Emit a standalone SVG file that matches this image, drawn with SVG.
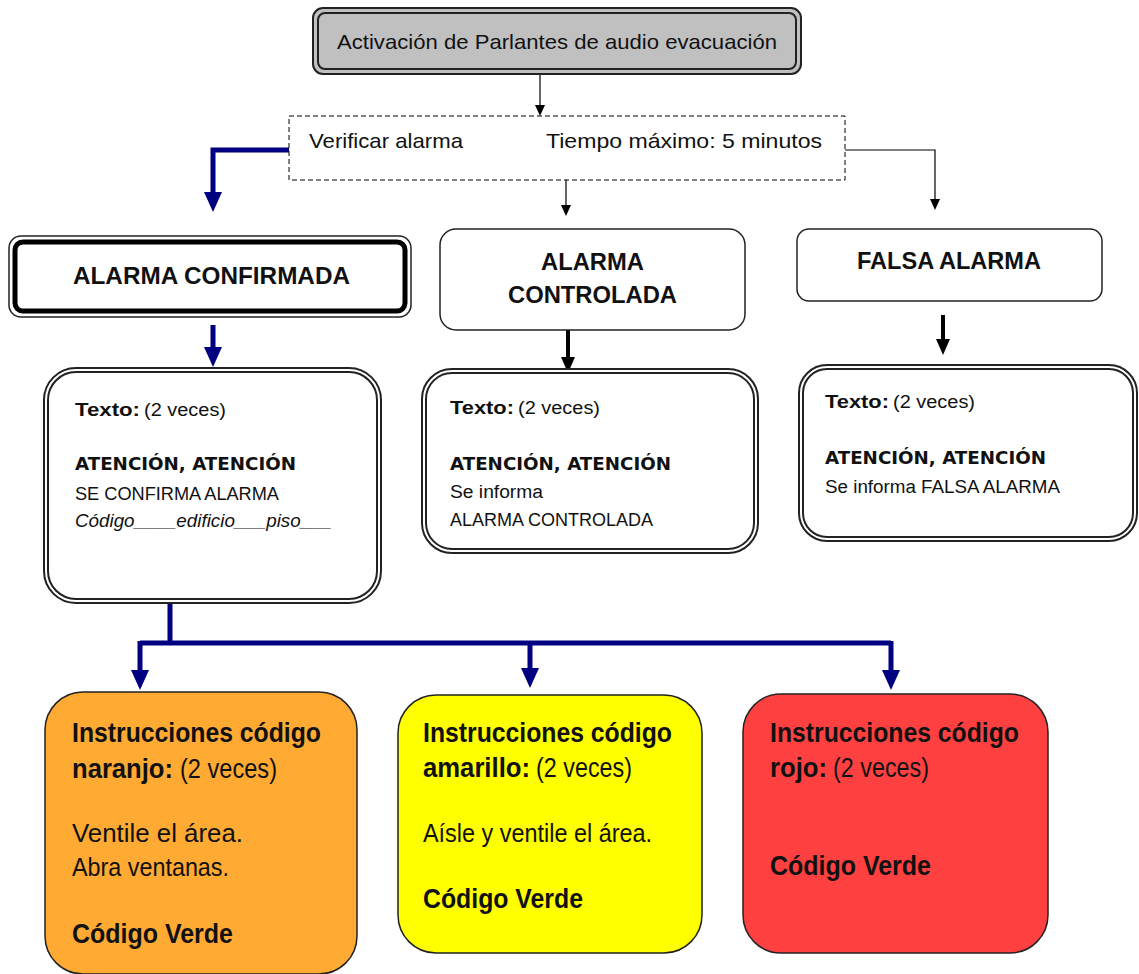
<svg xmlns="http://www.w3.org/2000/svg" width="1139" height="974" viewBox="0 0 1139 974">
<style>
.t{font-family:"Liberation Sans",Arial,sans-serif;fill:#111}
.b{font-weight:bold}
.v{font-family:"DejaVu Sans",Verdana,sans-serif;font-weight:bold;fill:#111}
.thin{fill:none;stroke:#000;stroke-width:1.2}
.thick{fill:none;stroke:#000;stroke-width:4}
.navy{fill:none;stroke:#000080;stroke-width:5}
.box{stroke:#222;stroke-width:1.5}
</style>
<defs>
<marker id="mThin" markerUnits="userSpaceOnUse" markerWidth="12" markerHeight="10" refX="0" refY="5" orient="auto"><path d="M0,0 L11,5 L0,10 z" fill="#000"/></marker>
<marker id="mThick" markerUnits="userSpaceOnUse" markerWidth="17" markerHeight="15" refX="0" refY="7" orient="auto"><path d="M0,0 L16,7 L0,14 z" fill="#000"/></marker>
<marker id="mNavy" markerUnits="userSpaceOnUse" markerWidth="21" markerHeight="19" refX="0" refY="9" orient="auto"><path d="M0,0 L20,9 L0,18 z" fill="#000080"/></marker>
</defs>

<g id="connectors">
<path class="thin" d="M540,74 V105" marker-end="url(#mThin)"/>
<path class="thin" d="M566,180 V205" marker-end="url(#mThin)"/>
<path class="thin" d="M845,150 H935 V199" marker-end="url(#mThin)"/>
<path class="navy" d="M289,150 H213 V192" marker-end="url(#mNavy)"/>
<path class="navy" d="M213,325 V347" marker-end="url(#mNavy)"/>
<path class="thick" d="M568,330 V357" marker-end="url(#mThick)"/>
<path class="thick" d="M943,315 V339" marker-end="url(#mThick)"/>
<path class="navy" d="M170,603 V643"/>
<path class="navy" d="M140,643 H891"/>
<path class="navy" d="M140,641 V670" marker-end="url(#mNavy)"/>
<path class="navy" d="M530,643 V668" marker-end="url(#mNavy)"/>
<path class="navy" d="M891,641 V670" marker-end="url(#mNavy)"/>
</g>

<g id="activacion">
<rect x="313" y="8" width="488" height="66" rx="10" fill="#c0c0c0" stroke="#222" stroke-width="2"/>
<rect x="318" y="13" width="478" height="56" rx="7" fill="#c0c0c0" stroke="#222" stroke-width="2"/>
<text class="t" x="337" y="49" font-size="21" textLength="440" lengthAdjust="spacingAndGlyphs">Activación de Parlantes de audio evacuación</text>
</g>

<g id="verificar">
<rect x="289" y="116" width="556" height="64" fill="#fff" stroke="#000" stroke-width="1" stroke-dasharray="5,3"/>
<text class="t" x="309" y="148" font-size="21" textLength="154" lengthAdjust="spacingAndGlyphs">Verificar alarma</text>
<text class="t" x="546" y="148" font-size="21" textLength="276" lengthAdjust="spacingAndGlyphs">Tiempo máximo: 5 minutos</text>
</g>

<g id="confirmada">
<rect x="9" y="236" width="402" height="81" rx="12" fill="#fff" class="box"/>
<rect x="15" y="242" width="390" height="69" rx="8" fill="#fff" stroke="#000" stroke-width="5"/>
<text class="t b" x="73" y="284" font-size="24" textLength="277" lengthAdjust="spacingAndGlyphs">ALARMA CONFIRMADA</text>
</g>

<g id="controlada">
<rect x="440" y="229" width="305" height="101" rx="16" fill="#fff" class="box"/>
<text class="t b" x="541" y="270" font-size="24" textLength="103" lengthAdjust="spacingAndGlyphs">ALARMA</text>
<text class="t b" x="508" y="303" font-size="24" textLength="169" lengthAdjust="spacingAndGlyphs">CONTROLADA</text>
</g>

<g id="falsa">
<rect x="797" y="229" width="305" height="72" rx="12" fill="#fff" class="box"/>
<text class="t b" x="857" y="269" font-size="24" textLength="184" lengthAdjust="spacingAndGlyphs">FALSA ALARMA</text>
</g>

<g id="texto1">
<rect x="44" y="368" width="337" height="235" rx="32" fill="#fff" stroke="#222" stroke-width="2"/>
<rect x="48" y="372" width="329" height="227" rx="28" fill="#fff" stroke="#222" stroke-width="2"/>
<text class="t b" x="75" y="416" font-size="18" textLength="65" lengthAdjust="spacingAndGlyphs">Texto:</text>
<text class="t" x="144" y="416" font-size="18" textLength="82" lengthAdjust="spacingAndGlyphs">(2 veces)</text>
<text class="v" x="75" y="470" font-size="17" textLength="221" lengthAdjust="spacingAndGlyphs">ATENCIÓN, ATENCIÓN</text>
<text class="t" x="75" y="500" font-size="18" textLength="204" lengthAdjust="spacingAndGlyphs">SE CONFIRMA ALARMA</text>
<text class="t" x="75" y="527" font-size="18" font-style="italic" textLength="257" lengthAdjust="spacingAndGlyphs">Código____edificio___piso___</text>
</g>

<g id="texto2">
<rect x="422" y="369" width="336" height="184" rx="30" fill="#fff" stroke="#222" stroke-width="2"/>
<rect x="426" y="373" width="328" height="176" rx="26" fill="#fff" stroke="#222" stroke-width="2"/>
<text class="t b" x="450" y="414" font-size="18" textLength="64" lengthAdjust="spacingAndGlyphs">Texto:</text>
<text class="t" x="518" y="414" font-size="18" textLength="82" lengthAdjust="spacingAndGlyphs">(2 veces)</text>
<text class="v" x="450" y="470" font-size="17" textLength="221" lengthAdjust="spacingAndGlyphs">ATENCIÓN, ATENCIÓN</text>
<text class="t" x="450" y="498" font-size="18" textLength="93" lengthAdjust="spacingAndGlyphs">Se informa</text>
<text class="t" x="450" y="526" font-size="18" textLength="203" lengthAdjust="spacingAndGlyphs">ALARMA CONTROLADA</text>
</g>

<g id="texto3">
<rect x="799" y="365" width="338" height="176" rx="28" fill="#fff" stroke="#222" stroke-width="2"/>
<rect x="803" y="369" width="330" height="168" rx="24" fill="#fff" stroke="#222" stroke-width="2"/>
<text class="t b" x="825" y="408" font-size="18" textLength="64" lengthAdjust="spacingAndGlyphs">Texto:</text>
<text class="t" x="893" y="408" font-size="18" textLength="82" lengthAdjust="spacingAndGlyphs">(2 veces)</text>
<text class="v" x="825" y="464" font-size="17" textLength="221" lengthAdjust="spacingAndGlyphs">ATENCIÓN, ATENCIÓN</text>
<text class="t" x="825" y="493" font-size="18" textLength="235" lengthAdjust="spacingAndGlyphs">Se informa FALSA ALARMA</text>
</g>

<g id="naranjo">
<rect x="45" y="692" width="312" height="282" rx="38" fill="#FFAA33" class="box"/>
<text class="t b" x="72" y="742" font-size="27" textLength="249" lengthAdjust="spacingAndGlyphs">Instrucciones código</text>
<text class="t b" x="72" y="778" font-size="27" textLength="101" lengthAdjust="spacingAndGlyphs">naranjo:</text>
<text class="t" x="180" y="778" font-size="27" textLength="97" lengthAdjust="spacingAndGlyphs">(2 veces)</text>
<text class="t" x="72" y="842" font-size="25" textLength="171" lengthAdjust="spacingAndGlyphs">Ventile el área.</text>
<text class="t" x="72" y="876" font-size="25" textLength="157" lengthAdjust="spacingAndGlyphs">Abra ventanas.</text>
<text class="t b" x="72" y="943" font-size="27" textLength="161" lengthAdjust="spacingAndGlyphs">Código Verde</text>
</g>

<g id="amarillo">
<rect x="398" y="695" width="304" height="258" rx="38" fill="#FFFF00" class="box"/>
<text class="t b" x="423" y="742" font-size="27" textLength="249" lengthAdjust="spacingAndGlyphs">Instrucciones código</text>
<text class="t b" x="423" y="777" font-size="27" textLength="107" lengthAdjust="spacingAndGlyphs">amarillo:</text>
<text class="t" x="536" y="777" font-size="27" textLength="96" lengthAdjust="spacingAndGlyphs">(2 veces)</text>
<text class="t" x="423" y="842" font-size="25" textLength="229" lengthAdjust="spacingAndGlyphs">Aísle y ventile el área.</text>
<text class="t b" x="423" y="908" font-size="27" textLength="160" lengthAdjust="spacingAndGlyphs">Código Verde</text>
</g>

<g id="rojo">
<rect x="743" y="694" width="305" height="259" rx="38" fill="#FF4040" class="box"/>
<text class="t b" x="770" y="742" font-size="27" textLength="249" lengthAdjust="spacingAndGlyphs">Instrucciones código</text>
<text class="t b" x="770" y="777" font-size="27" textLength="57" lengthAdjust="spacingAndGlyphs">rojo:</text>
<text class="t" x="833" y="777" font-size="27" textLength="96" lengthAdjust="spacingAndGlyphs">(2 veces)</text>
<text class="t b" x="770" y="875" font-size="27" textLength="161" lengthAdjust="spacingAndGlyphs">Código Verde</text>
</g>
</svg>
